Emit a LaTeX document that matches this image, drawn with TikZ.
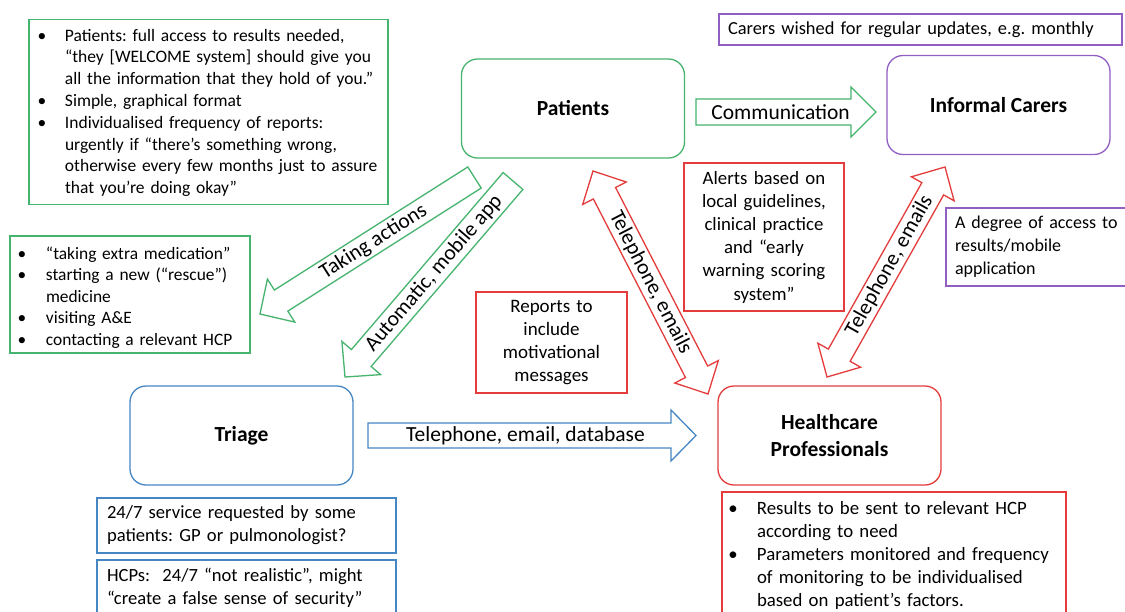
\documentclass[tikz,border=0pt]{standalone}
\usepackage{fontspec}
\setmainfont{Carlito}
\usetikzlibrary{calc}
\frenchspacing
\definecolor{cgreen}{RGB}{70,180,110}
\definecolor{cred}{RGB}{228,60,60}
\definecolor{cpurple}{RGB}{145,95,195}
\definecolor{cblue}{RGB}{70,135,195}
\newcommand\bitem[3]{\par\hangindent=#2pt\hangafter=1\noindent\hspace*{#1pt}\makebox[0pt]{\textbullet}\hspace*{\dimexpr#2pt-#1pt\relax}\ignorespaces#3}
\newcommand\padbottom[1]{\par\nointerlineskip\hbox{\rule{0pt}{#1}}}
\newcommand\singlearrow[5]{%
  \coordinate (#2-#3-h) at ($(#3)!25pt!(#2)$);
  \draw[#1] ($(#2)!#4!90:(#3)$) -- ($(#2-#3-h)!#4!90:(#3)$) -- ($(#2-#3-h)!#5!90:(#3)$) -- (#3)
    -- ($(#2-#3-h)!#5!-90:(#3)$) -- ($(#2-#3-h)!#4!-90:(#3)$) -- ($(#2)!#4!-90:(#3)$) -- cycle;}
\newcommand\doublearrow[5]{%
  \coordinate (#2-#3-h1) at ($(#3)!25pt!(#2)$);
  \coordinate (#2-#3-h2) at ($(#2)!25pt!(#3)$);
  \draw[#1] (#2) -- ($(#2-#3-h2)!#5!90:(#3)$) -- ($(#2-#3-h2)!#4!90:(#3)$) -- ($(#2-#3-h1)!#4!90:(#3)$)
    -- ($(#2-#3-h1)!#5!90:(#3)$) -- (#3) -- ($(#2-#3-h1)!#5!-90:(#3)$) -- ($(#2-#3-h1)!#4!-90:(#3)$)
    -- ($(#2-#3-h2)!#4!-90:(#3)$) -- ($(#2-#3-h2)!#5!-90:(#3)$) -- cycle;}
\tikzset{
  txt/.style={font=\fontsize{18}{23}\selectfont},
  actor/.style={draw=#1, line width=1.3pt, rounded corners=16pt, minimum width=223pt, minimum height=99pt,
    inner sep=0pt, align=center, font=\fontsize{21.5}{27}\selectfont\bfseries},
  note/.style={draw=#1, line width=1.2pt, inner sep=0pt, txt},
  blk/.style={draw=#1, line width=1.3pt, line join=miter, fill=white},
  lab/.style={inner sep=0pt, font=\fontsize{21.5}{26}\selectfont},
}
\begin{document}
\begin{tikzpicture}[x=1pt,y=-1pt]
\clip (0,0) rectangle (1125,611);
\fill[white] (0,0) rectangle (1125,611);

% main actors
\node[actor=cgreen]  (pat) at (573,108.5) {Patients};
\node[actor=cpurple] (car) at (998.5,105) {Informal Carers};
\node[actor=cblue]   (tri) at (241.5,435.5) {Triage};
\node[actor=cred]    (hcp) at (829.5,435.5) {Healthcare\\Professionals};

% notes
\node[note=cgreen, text width=359pt, minimum height=182pt, align=left,
  font=\fontsize{17.5}{21.8}\selectfont] (n1) at (208.5,112) {%
\bitem{13}{36}{Patients: full access to results needed,\newline “they [WELCOME system] should give you\newline all the information that they hold of you.”}
\bitem{13}{36}{Simple, graphical format}
\bitem{13}{36}{Individualised frequency of reports:\newline urgently if “there’s something wrong,\newline otherwise every few months just to assure\newline that you’re doing okay”}\padbottom{8pt}};

\node[note=cgreen, text width=240pt, minimum height=117pt, align=left,
  font=\fontsize{17.4}{21.5}\selectfont] (n2) at (130,294.5) {%
\bitem{12}{36}{“taking extra medication”}
\bitem{12}{36}{starting a new (“rescue”)\newline medicine}
\bitem{12}{36}{visiting A\&E}
\bitem{12}{36}{contacting a relevant HCP}\padbottom{3pt}};

\node[note=cred, text width=160pt, minimum height=148pt, align=center,
  font=\fontsize{18.8}{23.2}\selectfont] (n3) at (764,237) {Alerts based on\\ local guidelines,\\ clinical practice\\ and “early\\ warning scoring\\ system”};

\node[note=cred, text width=151pt, minimum height=101pt, align=center,
  font=\fontsize{19}{23}\selectfont] (n4) at (551.5,342.5) {Reports to\\ include\\ motivational\\ messages};

\node[note=cpurple, text width=385pt, inner xsep=9pt, minimum height=31pt, align=left,
  font=\fontsize{18.4}{23}\selectfont] (n5) at (920.5,29.5)
  {Carers wished for regular updates, e.g. monthly};

\node[note=cpurple, text width=166pt, inner xsep=9pt, minimum height=78pt, align=left,
  font=\fontsize{18}{23}\selectfont] (n6) at (1038,247) {A degree of access to\\ results/mobile\\ application};

\node[note=cblue, text width=279pt, inner xsep=10pt, minimum height=55pt, align=left,
  font=\fontsize{18.6}{23}\selectfont] (n7) at (246.5,525.5) {24/7 service requested by some\\ patients: GP or pulmonologist?};

\node[note=cblue, text width=279pt, inner xsep=10pt, minimum height=56pt, align=left,
  font=\fontsize{18.6}{23}\selectfont] (n8) at (246.5,588) {HCPs:\ \ 24/7 “not realistic”, might\\ “create a false sense of security”};

\node[note=cred, text width=344pt, minimum height=122pt, align=left,
  font=\fontsize{18.8}{23}\selectfont] (n9) at (894,554) {%
\bitem{11}{35}{Results to be sent to relevant HCP\newline according to need}
\bitem{11}{35}{Parameters monitored and frequency\newline of monitoring to be individualised\newline based on patient’s factors.}\padbottom{6pt}};

% block arrow end points
\coordinate (comA) at (696,112);
\coordinate (comB) at (876,112);
\coordinate (takA) at (474.5,177.5);
\coordinate (takB) at (260,314);
\coordinate (autA) at (513,181);
\coordinate (autB) at (345,377);
\coordinate (tphA) at (593,171);
\coordinate (tphB) at (708,394);
\coordinate (tchA) at (827,377);
\coordinate (tchB) at (945,167);
\coordinate (dbA) at (368,435.5);
\coordinate (dbB) at (696,435.5);

\singlearrow{blk=cgreen}{comA}{comB}{13pt}{25pt}
\path (comA) -- (comB) node[lab, pos=0.47] {Communication};

\singlearrow{blk=cgreen}{takA}{takB}{12.5pt}{25.5pt}
\path (takA) -- (takB) node[lab, sloped, pos=0.47] {Taking actions};

\singlearrow{blk=cgreen}{autA}{autB}{13pt}{25.5pt}
\path (autA) -- (autB) node[lab, sloped, pos=0.47] {Automatic, mobile app};

\doublearrow{blk=cred}{tphA}{tphB}{12.5pt}{24.5pt}
\path (tphA) -- (tphB) node[lab, sloped, pos=0.5] {Telephone, emails};

\doublearrow{blk=cred}{tchA}{tchB}{12.5pt}{24.5pt}
\path (tchA) -- (tchB) node[lab, sloped, pos=0.53] {Telephone, emails};

\singlearrow{blk=cblue}{dbA}{dbB}{12.5pt}{25.5pt}
\path (dbA) -- (dbB) node[lab, pos=0.48] {Telephone, email, database};
\end{tikzpicture}
\end{document}
